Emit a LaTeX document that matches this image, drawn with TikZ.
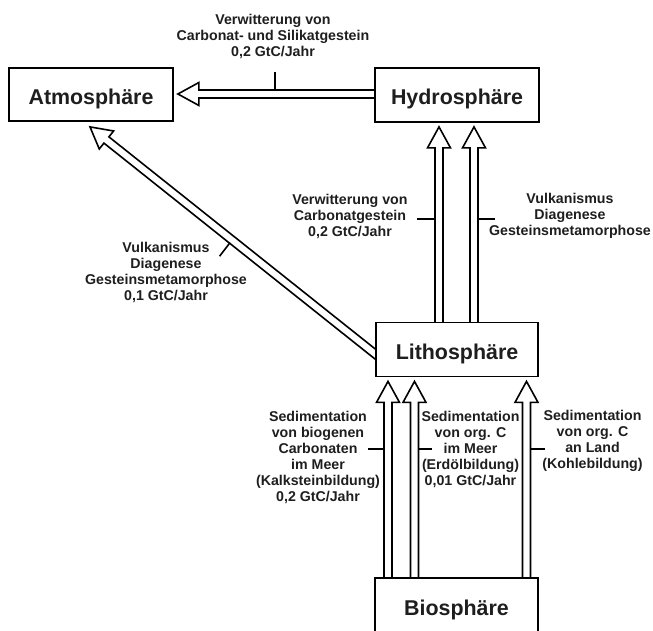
\documentclass[tikz,border=0pt]{standalone}
\usepackage{fontspec}
\setmainfont{Liberation Sans}
\usetikzlibrary{calc,backgrounds}
\definecolor{txt}{HTML}{1E1E1E}
\tikzset{
  box/.style={draw=black, line width=1.8pt, fill=white, inner sep=0pt,
    text height=20pt, text depth=0pt,
    font=\fontsize{21.4}{24}\selectfont\bfseries, text=txt},
  lbl/.style={align=center, inner sep=0pt,
    font=\fontsize{14.2}{16}\selectfont\bfseries, text=txt},
  harrow/.style={draw=black, line width=1.6pt, fill=white, line join=miter},
  tickmark/.style={draw=black, line width=1.6pt},
}
\newcommand{\hollowarrow}[2]{%
  \coordinate (hb) at ($(#2)!21pt!(#1)$);
  \filldraw[harrow] ($(#1)!4pt!90:(#2)$) -- ($(hb)!4pt!-90:(#1)$)
    -- ($(hb)!11.5pt!-90:(#1)$) -- (#2) -- ($(hb)!11.5pt!90:(#1)$)
    -- ($(hb)!4pt!90:(#1)$) -- ($(#1)!4pt!-90:(#2)$);
}
\begin{document}
\begin{tikzpicture}[x=1pt,y=-1pt]
\clip (0,0) rectangle (653,631);

% boxes
\node[box, minimum width=164pt, minimum height=53pt] (atmos) at (91,94.5) {Atmosphäre};
\node[box, minimum width=164pt, minimum height=54pt] (hydro) at (457,95) {Hydrosphäre};
\node[box, minimum width=162pt, minimum height=54pt] (litho) at (457,349.5) {Lithosphäre};
\node[box, minimum width=163pt, minimum height=54pt] (bio) at (456.5,605) {Biosphäre};

% arrow end points
\coordinate (hs) at ($(hydro.west)+(6,-1)$);
\coordinate (ht) at ($(atmos.east)+(4,-0.5)$);
\coordinate (ds) at ($(litho.west)+(6.3,9.5)$);
\coordinate (dt) at ($(atmos.south)+(-1,5)$);
\coordinate (v1s) at ($(litho.north)+(-18,6)$);
\coordinate (v1t) at ($(hydro.south)+(-18,4)$);
\coordinate (v2s) at ($(litho.north)+(17,6)$);
\coordinate (v2t) at ($(hydro.south)+(17,4)$);
\coordinate (b1s) at ($(bio.north)+(-68.5,6)$);
\coordinate (b1t) at ($(litho.south)+(-69,4)$);
\coordinate (b2s) at ($(bio.north)+(-42,6)$);
\coordinate (b2t) at ($(litho.south)+(-42.5,4)$);
\coordinate (b3s) at ($(bio.north)+(70,6)$);
\coordinate (b3t) at ($(litho.south)+(69.5,4)$);

\begin{pgfonlayer}{background}
  \hollowarrow{hs}{ht}
  \hollowarrow{ds}{dt}
  \hollowarrow{v1s}{v1t}
  \hollowarrow{v2s}{v2t}
  \hollowarrow{b1s}{b1t}
  \hollowarrow{b2s}{b2t}
  \hollowarrow{b3s}{b3t}
\end{pgfonlayer}

% labels
\node[lbl] (ltop) at (273,36) {Verwitterung von\\Carbonat- und Silikatgestein\\0,2 GtC/Jahr};
\node[lbl] (llv) at (350,216) {Verwitterung von\\Carbonatgestein\\0,2 GtC/Jahr};
\node[lbl] (lrv) at (570,216) {Vulkanismus\\Diagenese\\Gesteinsmetamorphose};
\node[lbl] (ldiag) at (166,272) {Vulkanismus\\Diagenese\\Gesteinsmetamorphose\\0,1 GtC/Jahr};
\node[lbl] (lb1) at (318,457) {Sedimentation\\von biogenen\\Carbonaten\\im Meer\\(Kalksteinbildung)\\0,2 GtC/Jahr};
\node[lbl] (lb2) at (470.5,449) {Sedimentation\\von org. C\\im Meer\\(Erdölbildung)\\0,01 GtC/Jahr};
\node[lbl] (lb3) at (592.5,441) {Sedimentation\\von org. C\\an Land\\(Kohlebildung)};

% tick marks
\coordinate (k1a) at (275,90);   \coordinate (k1b) at (275,72);
\coordinate (k2a) at (435,219);  \coordinate (k2b) at (417,219);
\coordinate (k3a) at (478,219);  \coordinate (k3b) at (495,219);
\coordinate (k4a) at (230,242.7);\coordinate (k4b) at (219.6,256.2);
\coordinate (k5a) at (384,449);  \coordinate (k5b) at (368,449);
\coordinate (k6a) at (418.5,449);\coordinate (k6b) at (432,449);
\coordinate (k7a) at (530.5,449);\coordinate (k7b) at (545,449);
\foreach \k in {1,...,7}{\draw[tickmark] (k\k a) -- (k\k b);}
\end{tikzpicture}
\end{document}
